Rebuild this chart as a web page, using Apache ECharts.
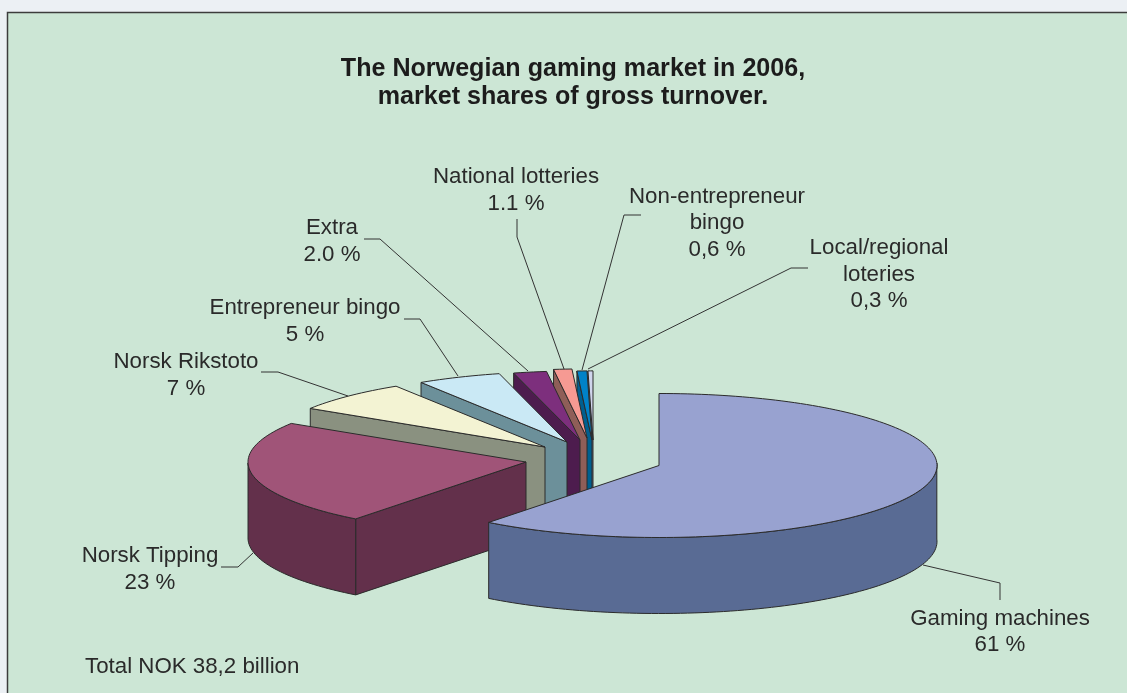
<!DOCTYPE html>
<html>
<head>
<meta charset="utf-8">
<title>The Norwegian gaming market in 2006</title>
<script src="https://cdn.jsdelivr.net/npm/echarts@6/dist/echarts.min.js"></script>
<style>
	html, body { margin: 0; padding: 0; background: #ecf0f4; }
	#chart { width: 1127px; height: 693px; }
</style>
</head>
<body>
<div id="chart"></div>
<script>
//Chart values, clockwise from 12 o'clock
let categories = ['Gaming machines', 'Norsk Tipping', 'Norsk Rikstoto', 'Entrepreneur bingo', 'Extra', 'National lotteries', 'Non-entrepreneur\nbingo', 'Local/regional\nloteries'];
let shares = [61, 23, 7, 5, 2.0, 1.1, 0.6, 0.3];
let shareLabels = ['61 %', '23 %', '7 %', '5 %', '2.0 %', '1.1 %', '0,6 %', '0,3 %'];

//Colours
let topColors = ['#98a2d0', '#a05478', '#f3f3d3', '#cae9f5', '#7d2f7d', '#f69a93', '#0082c8', '#d0d5ec'];
let wallColors = ['#596b94', '#63304b', '#8a9180', '#6c909a', '#4d1c4e', '#8f5e58', '#005f8f', '#6f7590'];

//Pie layout
let pieX = 659;
let pieY = 465.5;
let radiusX = 278;
let radiusY = 72;
let depth = 76;
let explodeX = [0, -133, -114, -92, -79, -72, -67, -66];
let explodeY = [0, -3.5, -18.5, -23.5, -25.5, -27.5, -25.5, -25.5];
//Slices pushed to the back look a bit smaller
let sliceScale = [1, 1, 1, 0.98, 0.96, 0.96, 0.96, 0.96];
//The old chart's perspective pulls the front rim round a little
let skewAmount = 2.4;
let skewSpan = 302.4;

//Label layout
let labelX = [1000, 150, 186, 305, 332, 516, 717, 879];
let labelY = [632, 569.5, 375.5, 321.5, 241.5, 190.5, 223, 274.5];
let leaders = [
	[[923, 565], [1000, 583], [1000, 600]],
	[[221, 567], [238, 567], [253, 553]],
	[[261, 372], [278, 372], [348, 396]],
	[[404, 319], [420, 319], [458, 376]],
	[[364, 239], [380, 239], [528, 371]],
	[[517, 219], [517, 237], [564, 369]],
	[[641, 215], [624, 215], [582, 370]],
	[[808, 268], [791, 268], [588, 369]]
];

let edgeColor = '#2b2b2b';
let textColor = '#2a2a2a';
let fontName = '"Liberation Sans", Arial, sans-serif';

let total = shares.reduce(function (a, b) { return a + b; }, 0);

function rimPoint(cx, cy, angle, drop, scale) {
	let skewed = angle;
	if (angle < skewSpan) {
		skewed = angle - skewAmount * Math.sin(Math.PI * angle / skewSpan);
	}
	let rad = skewed * Math.PI / 180;
	return [cx + radiusX * scale * Math.sin(rad), cy - radiusY * scale * Math.cos(rad) + drop];
}

function arcPoints(cx, cy, from, to, drop, scale) {
	let pts = [];
	let steps = Math.max(2, Math.ceil(Math.abs(to - from) / 1.5));
	for (let s = 0; s <= steps; s++) {
		pts.push(rimPoint(cx, cy, from + (to - from) * s / steps, drop, scale));
	}
	return pts;
}

function polygon(points, fill, z2) {
	return {
		type: 'polygon',
		z2: z2,
		shape: { points: points },
		style: { fill: fill, stroke: edgeColor, lineWidth: 1, lineJoin: 'round' }
	};
}

function renderSlice(params, api) {
	let i = params.dataIndex;
	let before = 0;
	for (let k = 0; k < i; k++) {
		before += shares[k];
	}
	let from = before / total * 360;
	let to = from + api.value(0) / total * 360;
	let cx = pieX + explodeX[i];
	let cy = pieY + explodeY[i];
	let scale = sliceScale[i];
	let z2 = (categories.length - i) * 10;
	let children = [];

	//Leader line and label sit under the pie
	children.push({
		type: 'polyline',
		z2: 1,
		shape: { points: leaders[i] },
		style: { fill: null, stroke: '#333', lineWidth: 1 }
	});
	children.push({
		type: 'text',
		z2: 1,
		x: labelX[i],
		y: labelY[i],
		style: {
			text: categories[i] + '\n' + shareLabels[i],
			fill: textColor,
			font: '22.3px ' + fontName,
			lineHeight: 26.5,
			align: 'center',
			verticalAlign: 'middle'
		}
	});

	//Cut face on the start edge, only when it looks toward the viewer
	if (from > 180) {
		let corner = rimPoint(cx, cy, from, 0, scale);
		children.push(polygon([[cx, cy], corner, [corner[0], corner[1] + depth], [cx, cy + depth]], wallColors[i], z2));
	}

	//Outer wall, the front half of the rim only
	let wallFrom = Math.max(from, 90);
	let wallTo = Math.min(to, 270);
	if (wallTo > wallFrom) {
		let wall = arcPoints(cx, cy, wallFrom, wallTo, 0, scale).concat(arcPoints(cx, cy, wallTo, wallFrom, depth, scale));
		children.push(polygon(wall, wallColors[i], z2 + 1));
	}

	//Top face
	let top = [[cx, cy]].concat(arcPoints(cx, cy, from, to, 0, scale));
	children.push(polygon(top, topColors[i], z2 + 2));

	return { type: 'group', children: children };
}

let chart = echarts.init(document.getElementById('chart'));

chart.setOption({
	backgroundColor: '#ecf0f4',
	animation: false,
	title: {
		text: 'The Norwegian gaming market in 2006,\nmarket shares of gross turnover.',
		left: 568,
		top: 49.5,
		textAlign: 'center',
		textStyle: {
			fontFamily: fontName,
			fontSize: 25.1,
			fontWeight: 'bold',
			lineHeight: 28.5,
			color: '#1c1c1c'
		}
	},
	graphic: [
		{
			type: 'rect',
			z: -1,
			shape: { x: 7.5, y: 12.5, width: 1300, height: 900 },
			style: { fill: '#cce6d5', stroke: '#3c3c3c', lineWidth: 1.5 }
		},
		{
			type: 'text',
			z: 5,
			x: 85,
			y: 667,
			style: {
				text: 'Total NOK 38,2 billion',
				fill: textColor,
				font: '22.3px ' + fontName,
				verticalAlign: 'middle'
			}
		}
	],
	series: [{
		type: 'custom',
		coordinateSystem: 'none',
		renderItem: renderSlice,
		data: shares.map(function (v, i) {
			return { name: categories[i], value: [v] };
		})
	}]
});
</script>
</body>
</html>
